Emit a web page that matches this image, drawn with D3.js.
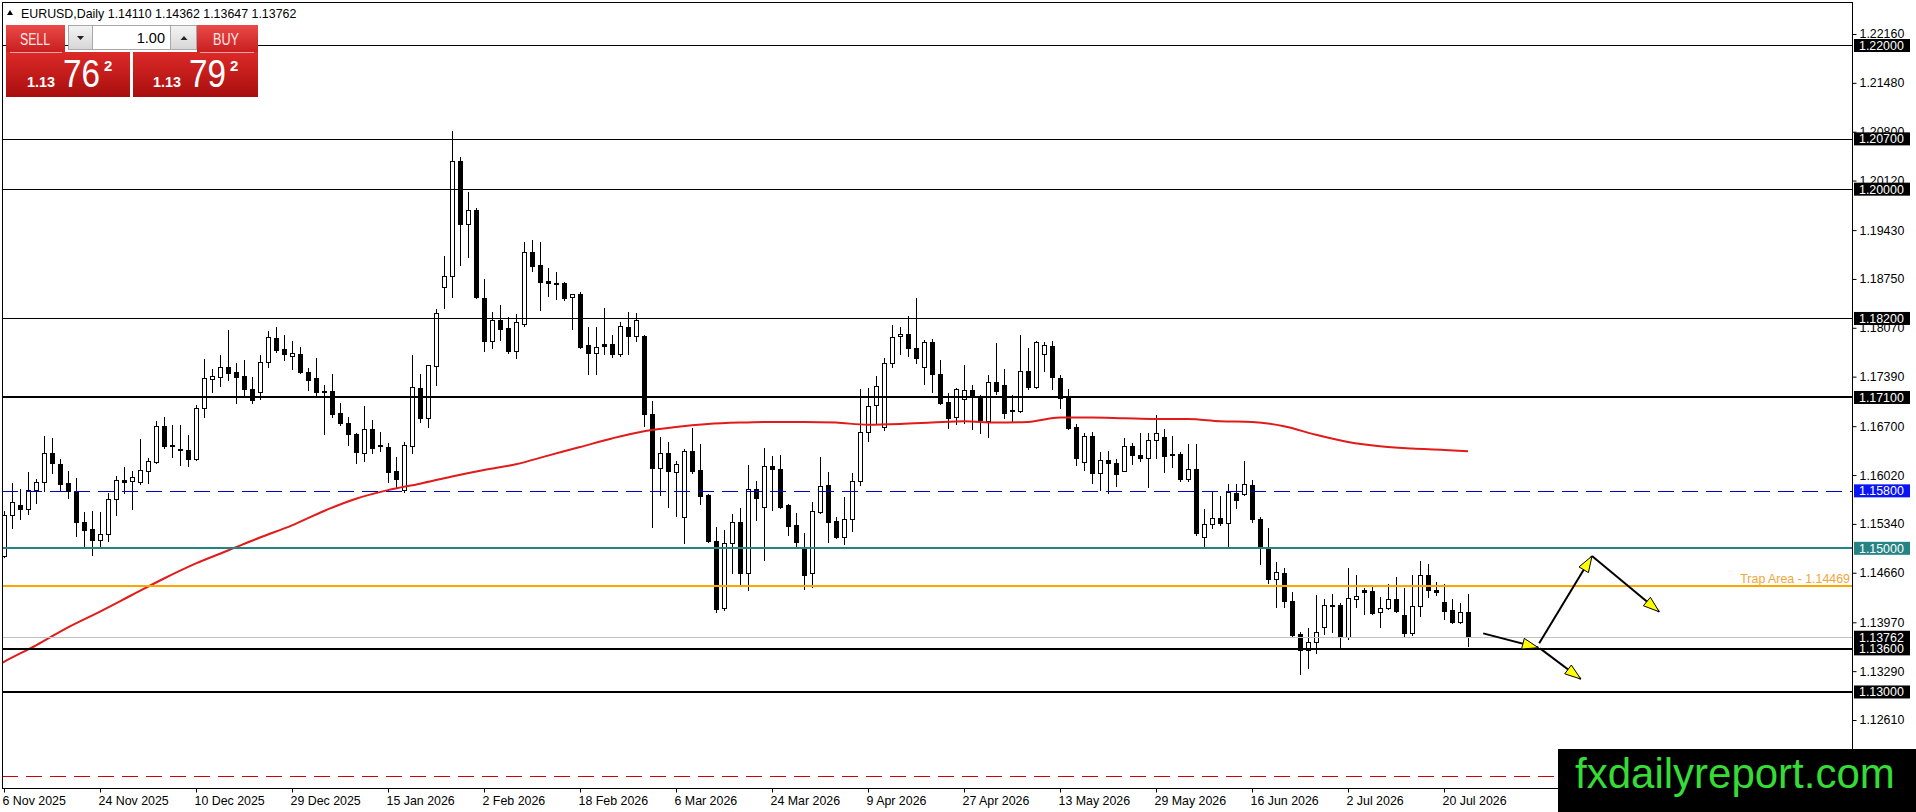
<!DOCTYPE html>
<html>
<head>
<meta charset="utf-8">
<script src="https://cdn.jsdelivr.net/npm/d3@7/dist/d3.min.js"></script>
<style>
html, body { margin: 0; padding: 0; background: #fff; overflow: hidden; }
svg { display: block; font-family: "Liberation Sans", Arial, sans-serif; }
</style>
</head>
<body>
<div id="chart"></div>
<script>
// EURUSD daily, bar 0 = 6 Nov 2025
var opens = [1.1489,1.1546,1.1560,1.1555,1.1581,1.1592,1.1633,1.1617,1.1591,1.1578,1.1537,1.1527,1.1512,1.1520,1.1569,1.1595,1.1594,1.1592,1.1608,1.1620,
  1.1670,1.1644,1.1638,1.1637,1.1624,1.1695,1.1736,1.1739,1.1752,1.1745,1.1740,1.1722,1.1718,1.1759,1.1793,1.1778,1.1768,1.1770,1.1745,1.1737,
  1.1718,1.1719,1.1688,1.1674,1.1659,1.1633,1.1666,1.1644,1.1641,1.1608,1.1581,1.1642,1.1723,1.1681,1.1754,1.1864,1.1879,1.2039,1.1951,1.1971,
  1.1849,1.1789,1.1818,1.1807,1.1775,1.1812,1.1913,1.1894,1.1872,1.1869,1.1869,1.1850,1.1854,1.1783,1.1772,1.1784,1.1784,1.1770,1.1808,1.1796,
  1.1796,1.1687,1.1612,1.1633,1.1606,1.1544,1.1635,1.1609,1.1574,1.1510,1.1417,1.1507,1.1537,1.1466,1.1583,1.1558,1.1615,1.1610,1.1560,1.1532,
  1.1500,1.1466,1.1551,1.1588,1.1538,1.1516,1.1541,1.1594,1.1662,1.1699,1.1669,1.1758,1.1796,1.1798,1.1779,1.1752,1.1787,1.1743,1.1704,1.1683,
  1.1708,1.1720,1.1712,1.1677,1.1732,1.1727,1.1693,1.1691,1.1747,1.1725,1.1770,1.1782,1.1737,1.1709,1.1669,1.1620,1.1656,1.1605,1.1623,1.1619,
  1.1608,1.1642,1.1630,1.1626,1.1651,1.1655,1.1631,1.1631,1.1597,1.1610,1.1516,1.1534,1.1542,1.1535,1.1577,1.1576,1.1588,1.1541,1.1499,1.1457,
  1.1466,1.1427,1.1381,1.1358,1.1370,1.1391,1.1421,1.1421,1.1377,1.1429,1.1442,1.1441,1.1411,1.1417,1.1429,1.1407,1.1382,1.1420,1.1463,1.1442,
  1.1425,1.1414,1.1397,1.14110];
var highs = [1.1552,1.1591,1.1583,1.1606,1.1597,1.1656,1.1654,1.1624,1.1608,1.1598,1.1551,1.1552,1.1551,1.1577,1.1601,1.1613,1.1608,1.1652,1.1626,1.1677,
  1.1683,1.1672,1.1672,1.1658,1.1699,1.1764,1.1750,1.1769,1.1804,1.1758,1.1762,1.1739,1.1769,1.1803,1.1808,1.1797,1.1789,1.1780,1.1751,1.1765,
  1.1727,1.1743,1.1702,1.1683,1.1661,1.1698,1.1679,1.1662,1.1647,1.1627,1.1648,1.1769,1.1743,1.1755,1.1833,1.1907,1.2081,1.2045,1.1996,1.1974,
  1.1875,1.1829,1.1839,1.1822,1.1826,1.1926,1.1929,1.1926,1.1890,1.1885,1.1871,1.1854,1.1857,1.1808,1.1808,1.1835,1.1797,1.1815,1.1829,1.1828,
  1.1797,1.1705,1.1655,1.1648,1.1622,1.1638,1.1668,1.1645,1.1575,1.1530,1.1526,1.1548,1.1556,1.1616,1.1594,1.1640,1.1628,1.1630,1.1561,1.1549,
  1.1521,1.1564,1.1627,1.1606,1.1544,1.1571,1.1605,1.1722,1.1723,1.1740,1.1765,1.1811,1.1808,1.1823,1.1849,1.1790,1.1791,1.1762,1.1716,1.1723,
  1.1755,1.1727,1.1713,1.1741,1.1786,1.1750,1.1713,1.1797,1.1779,1.1788,1.1787,1.1789,1.1741,1.1722,1.1673,1.1661,1.1662,1.1634,1.1635,1.1624,
  1.1654,1.1647,1.1661,1.1661,1.1686,1.1666,1.1656,1.1634,1.1645,1.1645,1.1555,1.1578,1.1573,1.1590,1.1590,1.1622,1.1595,1.1544,1.1528,1.1481,
  1.1473,1.1439,1.1383,1.1389,1.1435,1.1429,1.1436,1.1424,1.1473,1.1463,1.1445,1.1447,1.1432,1.1450,1.1460,1.1445,1.1463,1.1482,1.1478,1.1453,
  1.1450,1.1429,1.1424,1.14362];
var lows = [1.1488,1.1528,1.1541,1.1548,1.1563,1.1580,1.1605,1.1581,1.1570,1.1517,1.1502,1.1491,1.1502,1.1510,1.1546,1.1577,1.1555,1.1590,1.1591,1.1619,
  1.1640,1.1627,1.1616,1.1615,1.1623,1.1683,1.1718,1.1726,1.1734,1.1702,1.1712,1.1702,1.1708,1.1752,1.1773,1.1762,1.1750,1.1744,1.1720,1.1712,
  1.1659,1.1683,1.1672,1.1644,1.1619,1.1622,1.1633,1.1635,1.1592,1.1584,1.1578,1.1633,1.1676,1.1669,1.1727,1.1835,1.1850,1.1894,1.1906,1.1849,
  1.1775,1.1779,1.1790,1.1772,1.1765,1.1809,1.1886,1.1832,1.1851,1.1847,1.1846,1.1805,1.1779,1.1743,1.1743,1.1770,1.1766,1.1768,1.1770,1.1789,
  1.1670,1.1530,1.1574,1.1558,1.1545,1.1507,1.1605,1.1562,1.1509,1.1411,1.1414,1.1466,1.1449,1.1442,1.1539,1.1484,1.1553,1.1556,1.1519,1.1502,
  1.1443,1.1446,1.1549,1.1509,1.1514,1.1506,1.1524,1.1588,1.1649,1.1673,1.1665,1.1752,1.1770,1.1768,1.1758,1.1729,1.1718,1.1701,1.1668,1.1673,
  1.1674,1.1666,1.1661,1.1655,1.1715,1.1681,1.1676,1.1690,1.1722,1.1723,1.1747,1.1722,1.1695,1.1666,1.1616,1.1609,1.1591,1.1581,1.1577,1.1587,
  1.1607,1.1617,1.1622,1.1585,1.1626,1.1606,1.1613,1.1594,1.1594,1.1519,1.1502,1.1528,1.1532,1.1502,1.1556,1.1574,1.1537,1.1478,1.1452,1.1418,
  1.1418,1.1377,1.1325,1.1333,1.1354,1.1381,1.1383,1.1361,1.1374,1.1418,1.1409,1.1409,1.1391,1.1416,1.1411,1.1377,1.1379,1.1406,1.1432,1.1435,
  1.1402,1.1396,1.1396,1.13647];
var closes = [1.1546,1.1564,1.1555,1.1581,1.1592,1.1633,1.1619,1.1590,1.1580,1.1537,1.1526,1.1512,1.1520,1.1569,1.1595,1.1592,1.1599,1.1609,1.1622,1.1670,
  1.1642,1.1642,1.1637,1.1624,1.1695,1.1737,1.1740,1.1752,1.1744,1.1739,1.1722,1.1706,1.1759,1.1794,1.1776,1.1770,1.1772,1.1745,1.1734,1.1718,
  1.1719,1.1687,1.1674,1.1659,1.1634,1.1666,1.1640,1.1642,1.1606,1.1597,1.1644,1.1725,1.1681,1.1755,1.1828,1.1879,1.2039,1.1951,1.1971,1.1850,
  1.1789,1.1818,1.1805,1.1775,1.1815,1.1913,1.1893,1.1871,1.1869,1.1868,1.1849,1.1854,1.1780,1.1772,1.1780,1.1782,1.1770,1.1809,1.1796,1.1818,
  1.1687,1.1612,1.1633,1.1608,1.1617,1.1635,1.1608,1.1573,1.1510,1.1416,1.1507,1.1537,1.1466,1.1583,1.1570,1.1615,1.1610,1.1558,1.1531,1.1509,
  1.1463,1.1552,1.1587,1.1537,1.1516,1.1541,1.1594,1.1662,1.1698,1.1726,1.1758,1.1794,1.1798,1.1779,1.1765,1.1787,1.1743,1.1702,1.1681,1.1722,
  1.1720,1.1711,1.1679,1.1732,1.1719,1.1688,1.1691,1.1747,1.1725,1.1787,1.1783,1.1739,1.1709,1.1668,1.1626,1.1656,1.1605,1.1623,1.1619,1.1603,
  1.1642,1.1630,1.1626,1.1651,1.1661,1.1628,1.1630,1.1597,1.1610,1.1521,1.1534,1.1542,1.1535,1.1578,1.1567,1.1590,1.1541,1.1502,1.1457,1.1467,
  1.1427,1.1379,1.1358,1.1370,1.1383,1.1421,1.1420,1.1377,1.1431,1.1434,1.1439,1.1410,1.1417,1.1429,1.1413,1.1382,1.1420,1.1463,1.1442,1.1439,
  1.1413,1.1397,1.1411,1.13762];

// moving average (red), read at bar positions
var maBars = [-0.5,0,4,8,12,16,20,24,28,32,36,40,44,48,52,56,60,64,68,72,76,80,84,88,92,96,100,104,108,112,116,120,124,128,132,136,140,144,148,152,156,160,164,168,172,176,180,183];
var maValues = [1.1339,1.1342,1.1365,1.1390,1.1412,1.1435,1.1458,1.1479,1.1497,1.1515,1.1532,1.1552,1.1569,1.1581,1.1590,1.1600,1.1609,1.1617,1.1629,1.1641,1.1653,1.1663,1.1669,1.1673,1.1675,1.1676,1.1676,1.1675,1.1672,1.1673,1.1675,1.1677,1.1675,1.1676,1.1682,1.1682,1.1681,1.1680,1.1680,1.1677,1.1676,1.1670,1.1658,1.1648,1.1642,1.1639,1.1637,1.1635];

var dateLabels = ["6 Nov 2025","24 Nov 2025","10 Dec 2025","29 Dec 2025","15 Jan 2026","2 Feb 2026","18 Feb 2026","6 Mar 2026",
  "24 Mar 2026","9 Apr 2026","27 Apr 2026","13 May 2026","29 May 2026","16 Jun 2026","2 Jul 2026","20 Jul 2026"];
var dateBars = [0,12,24,36,48,60,72,84,96,108,120,132,144,156,168,180];

var priceTicks = [1.22160,1.21480,1.20800,1.20120,1.19430,1.18750,1.18070,1.17390,1.16700,1.16020,1.15340,1.14660,1.13970,1.13290,1.12610,1.11920];

var levelPrices = [1.22000,1.20700,1.20000,1.18200,1.17100,1.15800,1.15000,1.14469,1.13762,1.13600,1.13000,1.11830];
var trapLabel = "Trap Area - 1.14469";

// drawn arrows: [bar, price] -> [bar, price]
var arrowFromBar = [184.9,191.9,198.5,192.0];
var arrowFromPrice = [1.13816,1.13677,1.14892,1.13607];
var arrowToBar = [191.8,198.5,206.9,197.1];
var arrowToPrice = [1.13616,1.14892,1.14117,1.13180];

var W = 1916, H = 812;
var plotL = 2, plotR = 1852, plotT = 2, plotB = 788;

var svg = d3.select("#chart").append("svg")
    .attr("width", W)
    .attr("height", H);

var x = d3.scaleLinear().domain([0, 231]).range([4, 4 + 8 * 231]);
var y = d3.scaleLinear().domain([1.2216, 1.1397]).range([34, 622.3]);

svg.append("rect").attr("width", W).attr("height", H).attr("fill", "#fff");

svg.append("clipPath").attr("id", "plot")
  .append("rect").attr("x", plotL).attr("y", plotT).attr("width", plotR - plotL).attr("height", plotB - plotT);

var plot = svg.append("g").attr("clip-path", "url(#plot)");

// candles
var bars = d3.range(opens.length).map(function (i) {
  return { i: i, o: opens[i], h: highs[i], l: lows[i], c: closes[i] };
});

var cg = plot.append("g");
cg.selectAll(".wick").data(bars).enter().append("line")
  .attr("x1", function (d) { return Math.round(x(d.i)) + 0.5; })
  .attr("x2", function (d) { return Math.round(x(d.i)) + 0.5; })
  .attr("y1", function (d) { return Math.round(y(d.h)); })
  .attr("y2", function (d) { return Math.round(y(d.l)) + 1; })
  .attr("stroke", "#000").attr("stroke-width", 1);

cg.selectAll(".body").data(bars).enter().append("rect")
  .attr("x", function (d) { return Math.round(x(d.i)) - 1.5; })
  .attr("width", 4)
  .attr("y", function (d) { return Math.round(y(Math.max(d.o, d.c))) + 0.5; })
  .attr("height", function (d) {
    return Math.max(1, Math.round(y(Math.min(d.o, d.c))) - Math.round(y(Math.max(d.o, d.c))));
  })
  .attr("fill", function (d) { return d.c >= d.o ? "#fff" : "#000"; })
  .attr("stroke", "#000").attr("stroke-width", 1);

// moving average
var maLine = d3.line()
  .x(function (d) { return x(d[0]); })
  .y(function (d) { return y(d[1]); })
  .curve(d3.curveMonotoneX);
plot.append("path")
  .datum(maBars.map(function (b, i) { return [b, maValues[i]]; }))
  .attr("d", maLine)
  .attr("fill", "none")
  .attr("stroke", "#e21a1a")
  .attr("stroke-width", 2);

// horizontal levels
function levelStyle(p) {
  if (p === 1.17100 || p === 1.13600 || p === 1.13000) return { c: "#000", w: 2 };
  if (p === 1.15800) return { c: "#0000c0", w: 1, dash: "16,8", box: "#0a14f5" };
  if (p === 1.15000) return { c: "#268383", w: 2, box: "#268383" };
  if (p === 1.14469) return { c: "#ffa500", w: 2, nobox: true };
  if (p === 1.13762) return { c: "#c0c0c0", w: 1 };
  if (p === 1.11830) return { c: "#cc0000", w: 1, dash: "16,8", nobox: true };
  return { c: "#000", w: 1 };
}

var lg = plot.append("g");
levelPrices.forEach(function (p) {
  var s = levelStyle(p);
  var yy = Math.round(y(p)) + (s.w === 2 ? 0 : 0.5);
  lg.append("line")
    .attr("x1", plotL).attr("x2", plotR)
    .attr("y1", yy).attr("y2", yy)
    .attr("stroke", s.c).attr("stroke-width", s.w)
    .attr("stroke-dasharray", s.dash || null);
});

lg.append("text")
  .attr("x", plotR - 2)
  .attr("y", Math.round(y(1.14469)) - 3)
  .attr("text-anchor", "end")
  .attr("font-size", "12.4px")
  .attr("fill", "#f2a63a")
  .text(trapLabel);

// arrows
var ag = plot.append("g");
arrowFromBar.forEach(function (b, i) {
  var x1 = x(b), y1 = y(arrowFromPrice[i]);
  var x2 = x(arrowToBar[i]), y2 = y(arrowToPrice[i]);
  var dx = x2 - x1, dy = y2 - y1, len = Math.sqrt(dx * dx + dy * dy);
  var ux = dx / len, uy = dy / len;
  ag.append("line")
    .attr("x1", x1).attr("y1", y1).attr("x2", x2).attr("y2", y2)
    .attr("stroke", "#000").attr("stroke-width", 2);
  var L = 16, hw = 5.5;
  var bx = x2 - ux * L, by = y2 - uy * L;
  var pts = [[x2, y2], [bx - uy * hw, by + ux * hw], [bx + uy * hw, by - ux * hw]];
  ag.append("polygon")
    .attr("points", pts.map(function (p) { return p.join(","); }).join(" "))
    .attr("fill", "#ffff00").attr("stroke", "#000").attr("stroke-width", 1);
});

// frame
svg.append("rect")
  .attr("x", plotL + 0.5).attr("y", plotT + 0.5)
  .attr("width", plotR - plotL).attr("height", plotB - plotT)
  .attr("fill", "none").attr("stroke", "#000").attr("stroke-width", 1);

// price axis
var yAxis = d3.axisRight(y).tickValues(priceTicks).tickSize(4).tickPadding(3)
  .tickFormat(d3.format(".5f"));
var ya = svg.append("g").attr("transform", "translate(" + (plotR + 0.5) + ",0)").call(yAxis);
ya.select(".domain").remove();
ya.selectAll("text").attr("font-family", "Liberation Sans, Arial, sans-serif")
  .attr("font-size", "12.4px").attr("fill", "#000");
ya.selectAll("line").attr("stroke", "#000");

// price boxes on the axis
var bg = svg.append("g");
levelPrices.forEach(function (p) {
  var s = levelStyle(p);
  if (s.nobox) return;
  var yy = y(p);
  bg.append("rect")
    .attr("x", plotR + 2).attr("y", yy - 6.5)
    .attr("width", 56).attr("height", 13)
    .attr("fill", s.box || "#000");
  bg.append("text")
    .attr("x", plotR + 7).attr("y", yy + 4.5)
    .attr("font-size", "12.4px").attr("fill", "#fff")
    .text(d3.format(".5f")(p));
});

// time axis
var xAxis = d3.axisBottom(x).tickValues(dateBars).tickSize(4).tickPadding(4)
  .tickFormat(function (d, i) { return dateLabels[i]; });
var xa = svg.append("g").attr("transform", "translate(0," + (plotB + 0.5) + ")").call(xAxis);
xa.select(".domain").remove();
xa.selectAll("text").attr("text-anchor", "start").attr("x", -2)
  .attr("font-family", "Liberation Sans, Arial, sans-serif")
  .attr("font-size", "12.4px").attr("fill", "#000");
xa.selectAll("line").attr("stroke", "#000");

// header
svg.append("polygon").attr("points", "7,15 13,15 10,10").attr("fill", "#000");
svg.append("text").attr("x", 21).attr("y", 17.5).attr("font-size", "12.4px").attr("fill", "#000")
  .text("EURUSD,Daily 1.14110 1.14362 1.13647 1.13762");

// one-click trading panel
var defs = svg.append("defs");
var g1 = defs.append("linearGradient").attr("id", "redSmall").attr("x1", 0).attr("y1", 0).attr("x2", 0).attr("y2", 1);
g1.append("stop").attr("offset", "0%").attr("stop-color", "#ea4a48");
g1.append("stop").attr("offset", "100%").attr("stop-color", "#c81f20");
var g2 = defs.append("linearGradient").attr("id", "redBig").attr("x1", 0).attr("y1", 0).attr("x2", 0).attr("y2", 1);
g2.append("stop").attr("offset", "0%").attr("stop-color", "#dc2a28");
g2.append("stop").attr("offset", "100%").attr("stop-color", "#a80e0e");
var g3 = defs.append("linearGradient").attr("id", "grayBtn").attr("x1", 0).attr("y1", 0).attr("x2", 0).attr("y2", 1);
g3.append("stop").attr("offset", "0%").attr("stop-color", "#f4f4f4");
g3.append("stop").attr("offset", "100%").attr("stop-color", "#d6d6d6");

var pnl = svg.append("g");
pnl.append("rect").attr("x", 6).attr("y", 25).attr("width", 59).attr("height", 27).attr("fill", "url(#redSmall)");
pnl.append("rect").attr("x", 197).attr("y", 25).attr("width", 61).attr("height", 27).attr("fill", "url(#redSmall)");
pnl.append("rect").attr("x", 6).attr("y", 52).attr("width", 124).attr("height", 45).attr("fill", "url(#redBig)");
pnl.append("rect").attr("x", 133).attr("y", 52).attr("width", 125).attr("height", 45).attr("fill", "url(#redBig)");
pnl.append("line").attr("x1", 10).attr("x2", 62).attr("y1", 52.5).attr("y2", 52.5).attr("stroke", "#f3a0a0");
pnl.append("line").attr("x1", 200).attr("x2", 254).attr("y1", 52.5).attr("y2", 52.5).attr("stroke", "#f3a0a0");
pnl.append("rect").attr("x", 68.5).attr("y", 25.5).attr("width", 24).attr("height", 24).attr("fill", "url(#grayBtn)").attr("stroke", "#a8a8a8");
pnl.append("rect").attr("x", 92.5).attr("y", 25.5).attr("width", 78).attr("height", 24).attr("fill", "#fff").attr("stroke", "#a8a8a8");
pnl.append("rect").attr("x", 170.5).attr("y", 25.5).attr("width", 26).attr("height", 24).attr("fill", "url(#grayBtn)").attr("stroke", "#a8a8a8");
pnl.append("polygon").attr("points", "77,36 84,36 80.5,40").attr("fill", "#222");
pnl.append("polygon").attr("points", "180.5,40 187.5,40 184,36").attr("fill", "#222");
pnl.append("text").attr("x", 165).attr("y", 43).attr("text-anchor", "end").attr("font-size", "14.5px").attr("fill", "#000").text("1.00");
pnl.append("text").attr("x", 20).attr("y", 45).attr("font-size", "16px").attr("fill", "#ffe6e6")
  .attr("textLength", 30).attr("lengthAdjust", "spacingAndGlyphs").text("SELL");
pnl.append("text").attr("x", 213).attr("y", 45).attr("font-size", "16px").attr("fill", "#ffe6e6")
  .attr("textLength", 26).attr("lengthAdjust", "spacingAndGlyphs").text("BUY");

function quote(x0, big, bigX) {
  pnl.append("text").attr("x", x0).attr("y", 87).attr("font-size", "14px").attr("font-weight", "bold")
    .attr("fill", "#fff").attr("textLength", 28).attr("lengthAdjust", "spacingAndGlyphs").text("1.13");
  pnl.append("text").attr("x", bigX).attr("y", 87).attr("font-size", "39px").attr("fill", "#fff")
    .attr("textLength", 37).attr("lengthAdjust", "spacingAndGlyphs").text(big);
  pnl.append("text").attr("x", bigX + 41).attr("y", 71).attr("font-size", "15px").attr("font-weight", "bold")
    .attr("fill", "#fff").text("2");
}
quote(27, "76", 63);
quote(153, "79", 189);

// watermark
svg.append("rect").attr("x", 1558).attr("y", 749).attr("width", W - 1558).attr("height", H - 749).attr("fill", "#000");
svg.append("text").attr("x", 1575).attr("y", 788).attr("font-size", "42px").attr("fill", "#36dc36")
  .text("fxdailyreport.com");
</script>
</body>
</html>
